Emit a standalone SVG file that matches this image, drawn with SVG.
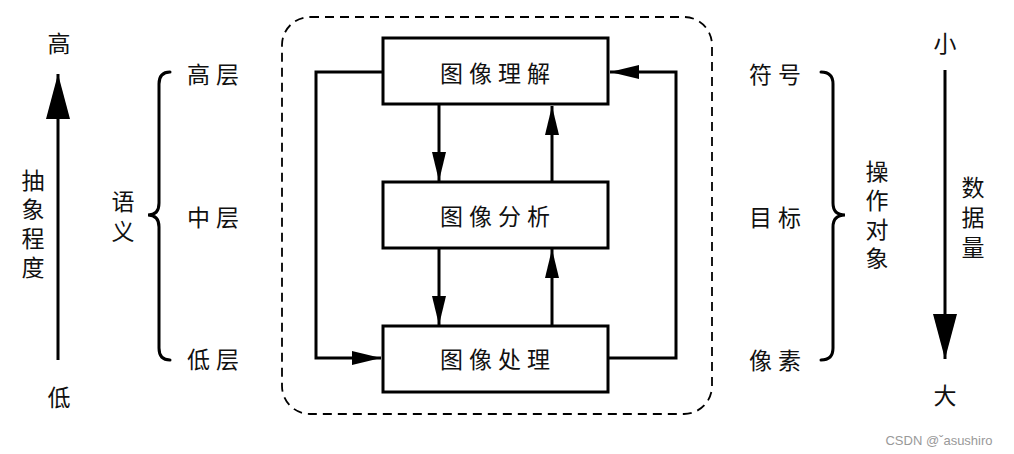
<svg xmlns="http://www.w3.org/2000/svg" width="1014" height="454" viewBox="0 0 1014 454">
<style>
text{font-family:"Noto Sans CJK SC","Noto Sans",sans-serif;font-size:23px;fill:#111;text-anchor:middle;dominant-baseline:central}
.v{writing-mode:vertical-rl;glyph-orientation-vertical:0;letter-spacing:6px}
.box{fill:#fff;stroke:#000;stroke-width:3}
.ln{fill:none;stroke:#000;stroke-width:3}
.br{fill:none;stroke:#000;stroke-width:3;stroke-linecap:round}
.ls{letter-spacing:6px}
</style>
<defs>
<marker id="ah" markerWidth="30" markerHeight="14" refX="29" refY="7" orient="auto" markerUnits="userSpaceOnUse"><path d="M0,0 L29,7 L0,14 Z" fill="#000"/></marker>
<marker id="big" markerWidth="46" markerHeight="24" refX="45" refY="12" orient="auto" markerUnits="userSpaceOnUse"><path d="M0,0 L45,12 L0,24 Z" fill="#000"/></marker>
</defs>
<rect x="282" y="17" width="430" height="397" rx="28" fill="none" stroke="#000" stroke-width="1.8" stroke-dasharray="9,6"/>
<g id="connectors">
<path class="ln" d="M383,72 H316 V358 H381" marker-end="url(#ah)"/>
<path class="ln" d="M608,358 H676 V72 H610" marker-end="url(#ah)"/>
<path class="ln" d="M439,105 V181" marker-end="url(#ah)"/>
<path class="ln" d="M552,182 V106" marker-end="url(#ah)"/>
<path class="ln" d="M439,248 V325" marker-end="url(#ah)"/>
<path class="ln" d="M552,326 V249" marker-end="url(#ah)"/>
</g>
<g id="n1"><rect class="box" x="383" y="38" width="225" height="66"/><text x="498" y="72" class="ls">图像理解</text></g>
<g id="n2"><rect class="box" x="383" y="182" width="225" height="66"/><text x="498" y="215" class="ls">图像分析</text></g>
<g id="n3"><rect class="box" x="383" y="326" width="225" height="66"/><text x="498" y="358" class="ls">图像处理</text></g>
<g id="left">
<text x="59" y="42">高</text>
<text x="59" y="396">低</text>
<path class="ln" d="M58,360 V74" marker-end="url(#big)"/>
<text x="33" y="227" class="v">抽象程度</text>
<path class="br" d="M170,72 Q159,72 159,84 V203 Q159,215 148,215 Q159,215 159,227 V348 Q159,360 170,360"/>
<text x="123" y="220" class="v" style="letter-spacing:7px">语义</text>
<text x="216" y="73" class="ls">高层</text>
<text x="216" y="216" class="ls">中层</text>
<text x="216" y="358" class="ls">低层</text>
</g>
<g id="right">
<text x="778" y="73" class="ls">符号</text>
<text x="778" y="216" class="ls">目标</text>
<text x="778" y="359" class="ls">像素</text>
<path class="br" d="M821,72 Q833,72 833,84 V203 Q833,215 845,215 Q833,215 833,227 V348 Q833,360 821,360"/>
<text x="877" y="218" class="v">操作对象</text>
<text x="945" y="42">小</text>
<text x="945" y="394">大</text>
<path class="ln" d="M945,70 V359" marker-end="url(#big)"/>
<text x="973" y="221" class="v" style="letter-spacing:7px">数据量</text>
</g>
<text x="939" y="440" style="font-size:13px;fill:#999;font-family:'Liberation Sans',sans-serif">CSDN @ˇasushiro</text>
</svg>
